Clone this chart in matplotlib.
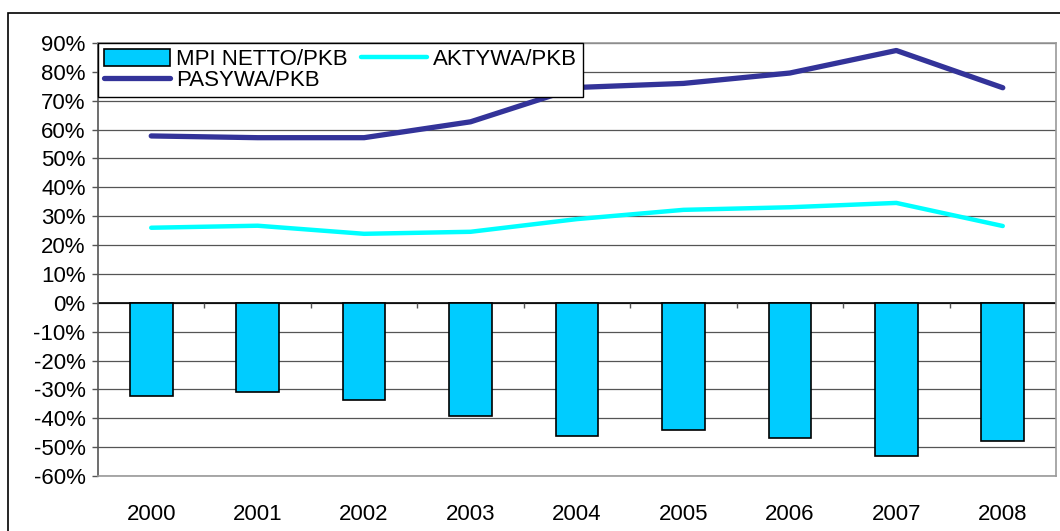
"""MPI netto / aktywa / pasywa relative to PKB, 2000-2008."""

import numpy as np
import matplotlib
matplotlib.use("Agg")
import matplotlib.pyplot as plt
from matplotlib.patches import Rectangle
from matplotlib.ticker import FuncFormatter, MultipleLocator

plt.rcParams.update({
    "font.family": ["Liberation Sans", "DejaVu Sans"],
    "font.size": 16,
})

years = ["2000", "2001", "2002", "2003", "2004", "2005", "2006", "2007", "2008"]
mpi_netto = [-32.2, -30.8, -33.6, -39.1, -46.0, -44.0, -46.7, -53.1, -48.0]
aktywa = [26.0, 26.7, 23.9, 24.6, 29.0, 32.2, 33.1, 34.6, 26.6]
pasywa = [57.8, 57.2, 57.2, 62.7, 74.6, 76.0, 79.6, 87.4, 74.5]

BAR_C = "#00CCFF"
AKT_C = "#00FFFF"
PAS_C = "#333399"


def main():
    fig = plt.figure(figsize=(10.6, 5.31), dpi=100)
    # outer chart frame (cut off at the right and bottom)
    fig.patches.append(Rectangle((8 / 1060, -0.05), 1.2, 1 - 13 / 531 + 0.05,
                                 transform=fig.transFigure, fill=False,
                                 edgecolor="black", lw=1.2))
    ax = fig.add_axes([98 / 1060, 55 / 531, 958 / 1060, 433 / 531])

    x = np.arange(len(years))
    bars = ax.bar(x, mpi_netto, width=0.4, color=BAR_C, edgecolor="black", lw=1.2,
                  label="MPI NETTO/PKB", zorder=3)
    l_akt, = ax.plot(x, aktywa, color=AKT_C, lw=3.2, solid_capstyle="round",
                     label="AKTYWA/PKB", zorder=4)
    l_pas, = ax.plot(x, pasywa, color=PAS_C, lw=3.8, solid_capstyle="round",
                     label="PASYWA/PKB", zorder=4)

    ax.set_xlim(-0.5, len(years) - 0.5)
    ax.set_ylim(-60, 90)
    ax.yaxis.set_major_locator(MultipleLocator(10))
    ax.yaxis.set_major_formatter(FuncFormatter(lambda v, _: f"{v:.0f}%"))
    ax.set_xticks(x)
    ax.set_xticklabels(years)
    ax.tick_params(axis="x", length=0, pad=20)
    ax.tick_params(axis="y", length=4, width=1, color="#555555", pad=5)

    ax.grid(axis="y", color="#555555", lw=0.9, zorder=1)
    ax.axhline(0, color="black", lw=1.2, zorder=2)
    ax.vlines(x[:-1] + 0.5, -1.8, 0, color="#555555", lw=1, zorder=2)
    ax.vlines(len(years) - 0.5, -1.8, 0, color="black", lw=1, zorder=2)

    for side in ("top", "right", "bottom"):
        ax.spines[side].set_color("#999999")
        ax.spines[side].set_linewidth(1.2)
    ax.spines["left"].set_color("#555555")
    ax.spines["left"].set_linewidth(1.2)

    # legend filled column-wise: bars + pasywa in col 1, aktywa in col 2
    leg = ax.legend([bars, l_pas, l_akt],
                    ["MPI NETTO/PKB", "PASYWA/PKB", "AKTYWA/PKB"],
                    ncol=2, loc="upper left", bbox_to_anchor=(0.0, 1.0),
                    fancybox=False, framealpha=1, edgecolor="black",
                    borderpad=0.25, labelspacing=0.0, handlelength=3.0,
                    handleheight=0.8, handletextpad=0.25, columnspacing=0.6,
                    borderaxespad=0.0, fontsize=16)
    leg.get_frame().set_linewidth(1.0)
    leg.set_zorder(5)

    fig.savefig("out.png", dpi=100)
    plt.close(fig)


if __name__ == "__main__":
    main()
